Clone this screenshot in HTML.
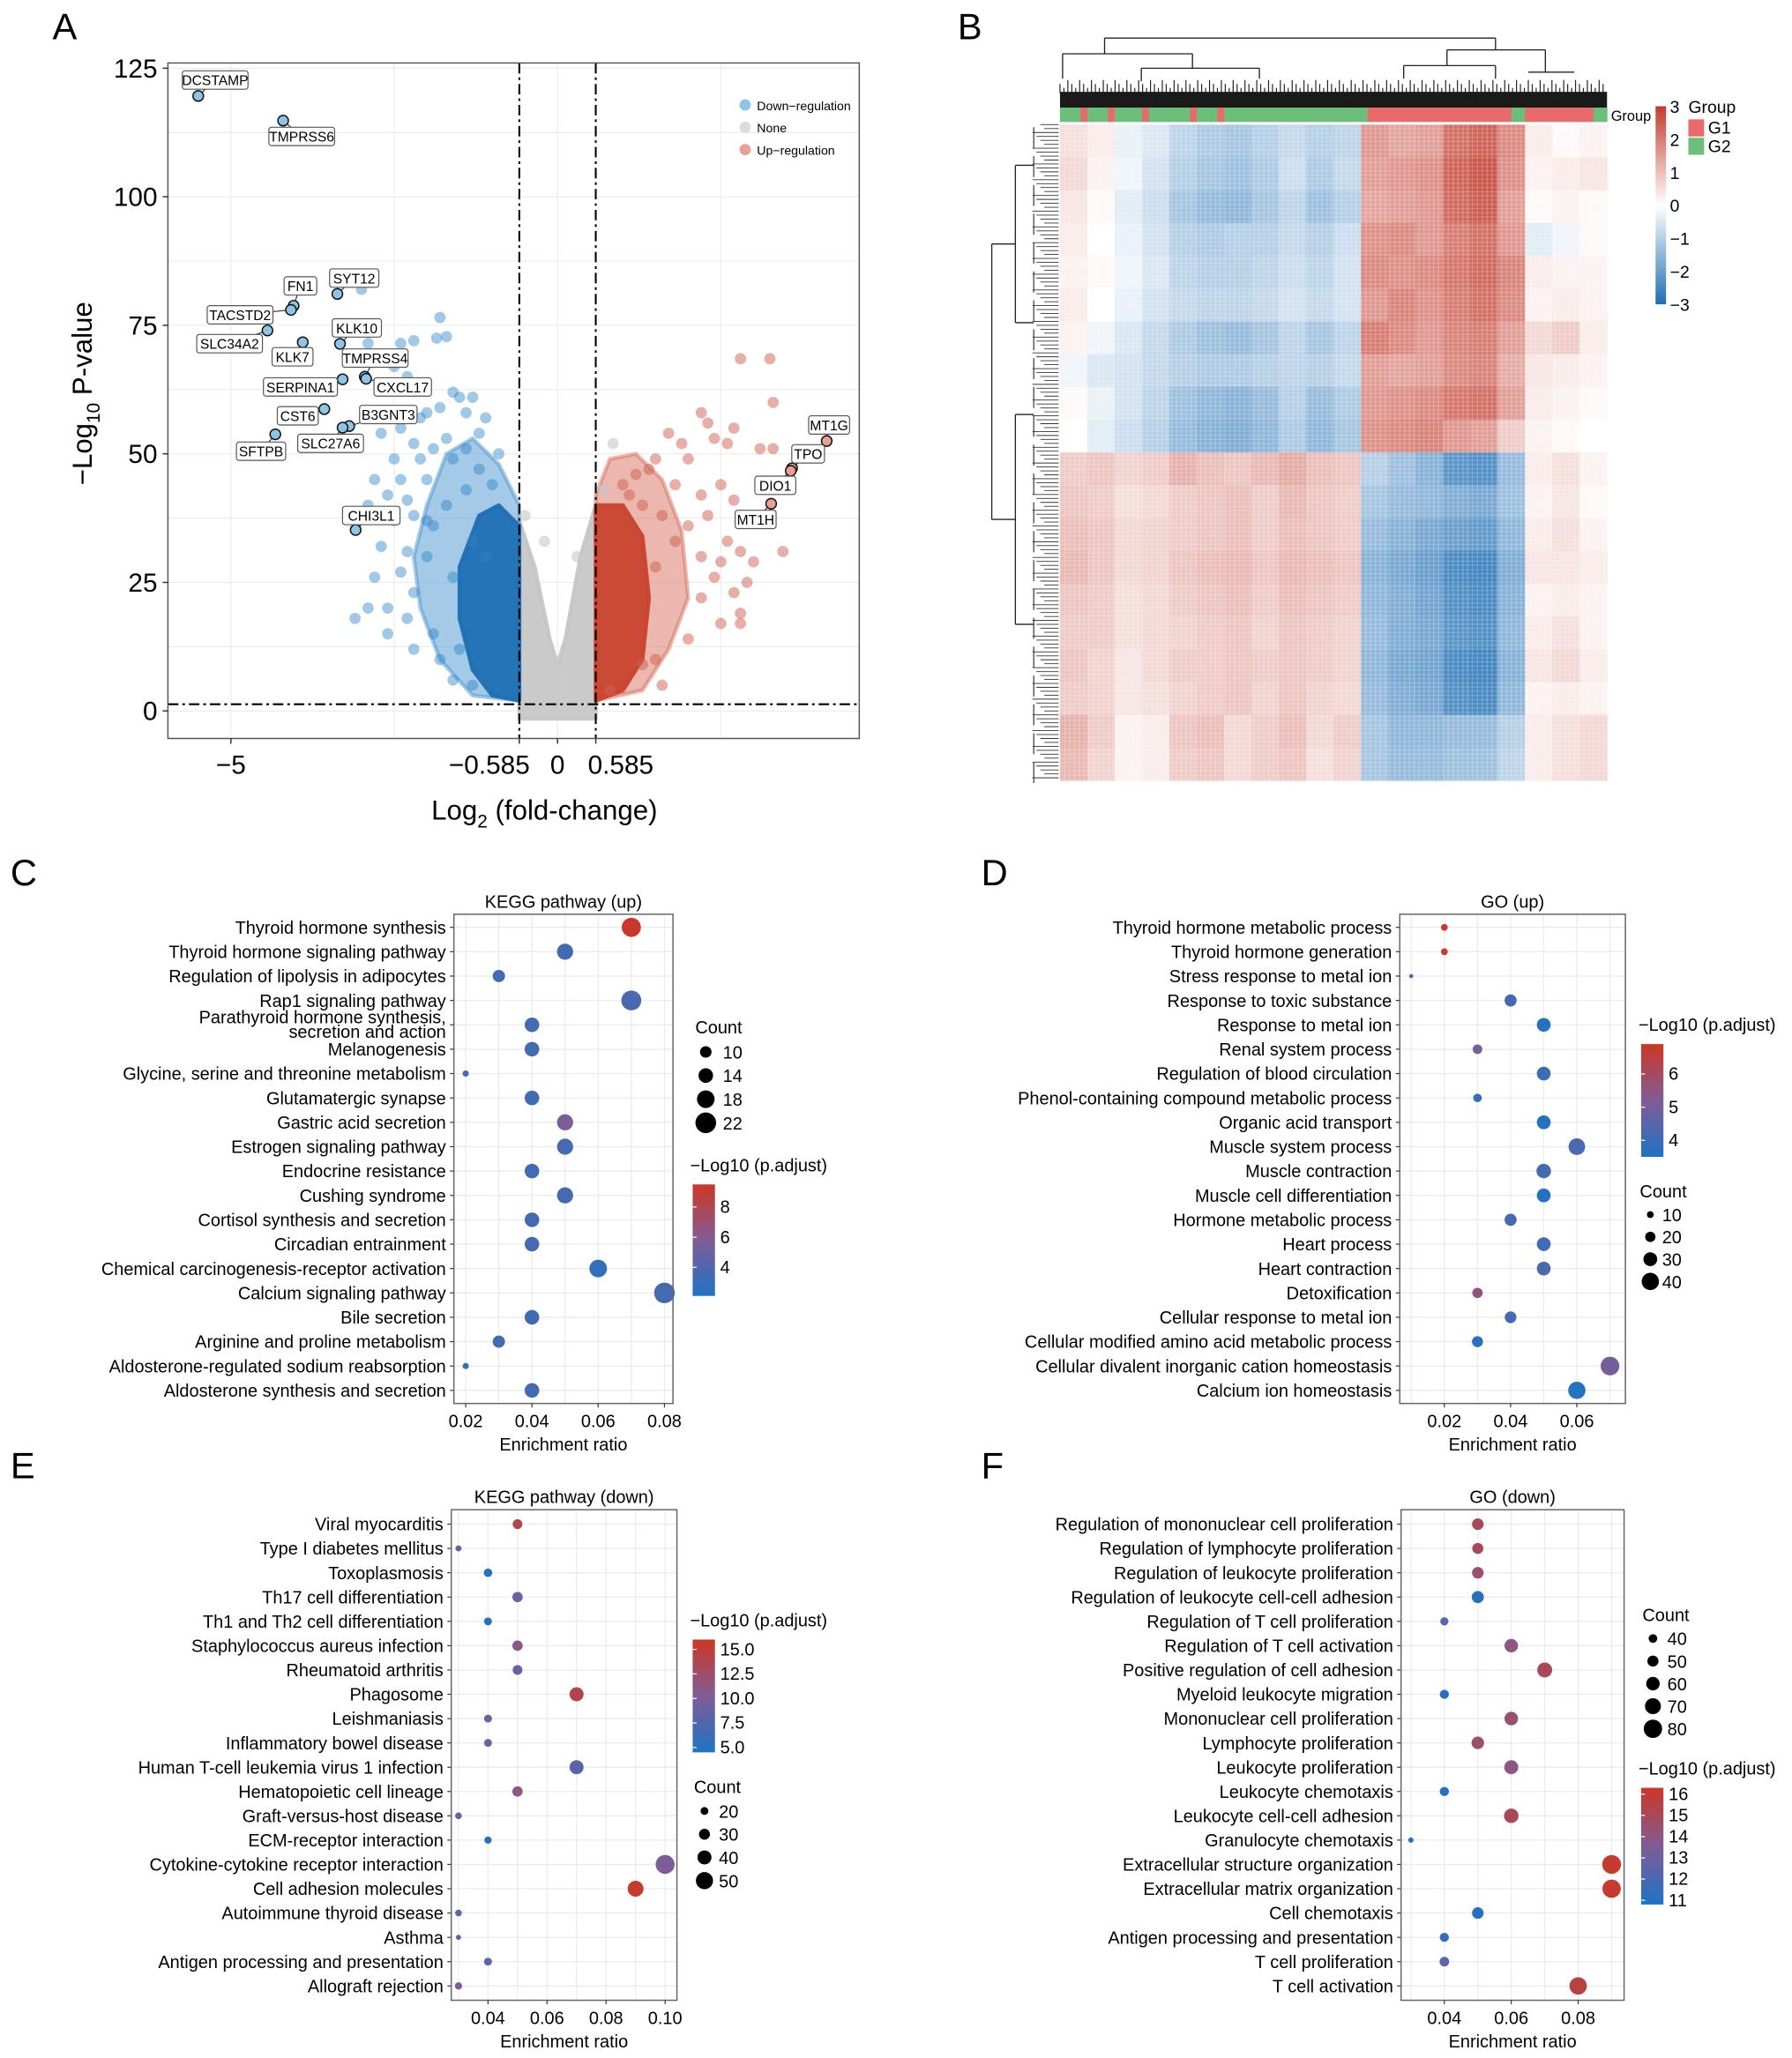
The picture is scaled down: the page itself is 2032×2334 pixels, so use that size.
<!DOCTYPE html>
<html><head><meta charset="utf-8">
<style>
html,body{margin:0;padding:0;background:#fff;}
svg{display:block;font-family:"Liberation Sans",Arial,sans-serif;}
</style></head>
<body>
<svg id="fig" xmlns="http://www.w3.org/2000/svg" width="2032" height="2334" viewBox="0 0 1366 1569">
<defs>
<linearGradient id="hmGrad" x1="0" y1="1" x2="0" y2="0">
<stop offset="0" stop-color="rgb(30,110,180)"/><stop offset="0.5" stop-color="#ffffff"/><stop offset="1" stop-color="rgb(195,60,45)"/>
</linearGradient>
<linearGradient id="dotGrad" x1="0" y1="1" x2="0" y2="0">
<stop offset="0" stop-color="rgb(30,115,195)"/><stop offset="0.5" stop-color="rgb(128,92,150)"/><stop offset="1" stop-color="rgb(205,55,35)"/>
</linearGradient>
</defs>
<text x="40" y="30" font-size="28">A</text>
<text x="730" y="30" font-size="28">B</text>
<text x="8" y="675" font-size="28">C</text>
<text x="748" y="675" font-size="28">D</text>
<text x="8" y="1127" font-size="28">E</text>
<text x="748" y="1127" font-size="28">F</text>
<g id="gA"></g>
<g id="gB"></g>
<g id="gC"></g>
<g id="gD"></g>
<g id="gE"></g>
<g id="gF"></g>
</svg>
<script>
// ---------- Volcano data ----------
const volDownX=[-3.0,-1.8,-1.85,-1.7,-2.2,-2.4,-2.9,-2.6,-2.5,-2.3,-1.6,-1.5,-1.3,-1.4,-1.8,-2.0,-2.1,-2.4,-2.7,-1.2,-1.7,-2.2,-1.9,-1.4,-2.5,-2.1,-1.6,-2.8,-2.4,-2.0,-2.6,-2.3,-2.9,-2.2,-2.5,-2.0,-2.7,-2.3,-2.0,-2.8,-2.4,-2.2,-2.9,-2.6,-2.3,-3.1,-1.9,-2.6,-1.5,-1.8,-2.2,-1.3,-1.6,-1.1,-0.9,-1.2,-1.0,-1.4,-1.7,-1.9,-1.3,-1.1,-1.6];
const volDownY=[82,76.5,72.5,72.8,72,71.5,71.5,69,67,65,62,61,61,58,59,58,57,55,54,54,53,52,51,51,49,49,49,45,45,45,42,41,40,38,37,37,32,31,30,26,27,23,20,20,18,18,15,15,12,10,12,5,6,57,50,47,44,43,40,36,33,30,26];
const volUpX=[2.8,3.25,3.3,2.2,2.3,2.4,2.7,2.6,3.1,3.3,1.7,1.9,2.0,1.5,1.4,1.2,1.8,2.2,2.5,2.7,2.3,2.9,2.0,2.6,2.8,3.45,2.2,2.5,3.0,2.4,2.9,2.7,2.2,2.8,2.5,2.8,2.0,1.5,1.6,1.3,0.8,1.1,1.3,1.6,1.8,1.0,1.5];
const volUpY=[68.5,68.5,60,58,56,53,55,52,51,51,54,52,49,49,47,46,44,42,44,41,38,38,36,33,31,31,30,29,29,26,25,23,22,19,17,17,14,10,5,9,4,42,40,38,33,44,28];
const volNoneX=[-0.2,0.85,0.7,-0.5,0.3];
const volNoneY=[33,52,43,38,30];
const labGenes=["DCSTAMP","TMPRSS6","SYT12","FN1","TACSTD2","SLC34A2","KLK10","KLK7","TMPRSS4","SERPINA1","CXCL17","CST6","B3GNT3","SLC27A6","SFTPB","CHI3L1","MT1G","TPO","DIO1","MT1H"];
const labX=[-5.50,-4.20,-3.37,-4.04,-4.08,-4.44,-3.33,-3.90,-2.95,-3.29,-2.93,-3.57,-3.19,-3.29,-4.32,-3.09,4.12,3.59,3.57,3.27];
const labY=[119.6,114.8,81.1,78.8,78.0,74.0,71.4,71.7,65.0,64.5,64.6,58.7,55.4,55.1,53.8,35.2,52.5,47.2,46.7,40.3];
const labBoxX=[164,230,270,229,183,175,272,223,286,229,307,227,296,252,199,283,632,616,591,576];
const labBoxY=[61,104,212,218,240,262,250,272,273,295,295,317,316,338,344,393,324,346,370,396];
const volXTicks=[-5,-0.585,0,0.585];
const volXTickLabels=["\u22125","\u22120.585","0","0.585"];
const volYTicks=[0,25,50,75,100,125];
// ---------- Heatmap data ----------
const hmMatrix=[
[0.5,0.3,-0.3,-0.5,-0.9,-1.1,-1.2,-1.0,-0.8,-1.0,-0.9,1.6,1.4,1.5,2.2,2.4,1.8,0.3,0.1,0.2],
[0.6,0.2,-0.2,-0.6,-1.0,-1.2,-1.3,-1.1,-0.7,-1.1,-0.8,1.5,1.6,1.7,2.4,2.6,1.7,0.2,0.3,0.4],
[0.4,0.1,-0.4,-0.7,-1.2,-1.4,-1.5,-1.2,-0.9,-1.3,-1.0,1.4,1.5,1.6,2.3,2.5,1.5,0.1,0.2,0.1],
[0.3,0.0,-0.3,-0.6,-1.0,-1.1,-1.0,-1.0,-0.8,-1.0,-0.7,1.7,1.8,1.6,2.0,2.2,1.6,-0.4,-0.2,0.1],
[0.2,0.1,-0.2,-0.5,-0.9,-1.0,-1.0,-0.9,-0.7,-0.9,-0.6,1.8,1.7,1.8,2.1,2.3,1.9,0.3,0.2,0.2],
[0.3,0.0,-0.3,-0.6,-0.8,-0.9,-0.9,-0.8,-0.6,-0.8,-0.6,1.6,1.9,1.7,2.0,2.2,1.8,0.2,0.3,0.2],
[0.2,-0.2,-0.5,-0.8,-1.1,-1.3,-1.4,-1.2,-0.9,-1.2,-0.9,2.0,1.8,1.6,1.9,2.0,1.5,0.6,0.8,0.3],
[-0.2,-0.5,-0.6,-0.8,-1.0,-1.1,-1.1,-1.0,-0.9,-1.0,-0.8,1.5,1.4,1.5,1.8,1.9,1.3,0.4,0.3,0.2],
[0.1,-0.3,-0.6,-0.9,-1.3,-1.5,-1.6,-1.4,-1.0,-1.4,-1.1,1.6,1.7,1.8,2.1,2.2,1.5,0.3,0.2,0.1],
[0.0,-0.4,-0.7,-1.0,-1.4,-1.6,-1.7,-1.5,-1.1,-1.5,-1.2,1.7,1.8,1.9,1.6,1.5,0.8,0.2,0.1,0.0],
[0.8,0.9,0.7,0.8,1.2,1.0,0.9,1.1,1.3,1.0,0.9,-1.0,-1.3,-1.6,-2.2,-2.3,-1.4,0.3,0.5,0.2],
[0.9,0.8,0.5,0.6,0.8,0.9,1.0,0.8,1.1,0.9,0.8,-1.2,-1.4,-1.5,-1.7,-1.8,-1.3,0.2,0.4,0.1],
[1.0,0.9,0.6,0.7,0.8,0.9,1.0,0.8,1.0,0.9,0.8,-1.4,-1.6,-1.8,-2.0,-2.1,-1.5,0.3,0.5,0.2],
[1.1,0.9,0.6,0.7,0.9,1.0,1.1,0.9,1.1,1.0,0.9,-1.6,-1.8,-2.0,-2.4,-2.5,-1.7,0.4,0.4,0.3],
[0.9,0.8,0.5,0.6,0.8,0.9,1.0,0.8,1.0,0.9,0.8,-1.5,-1.7,-1.9,-2.3,-2.4,-1.6,0.2,0.3,0.2],
[0.8,0.8,0.5,0.6,0.7,0.8,0.9,0.7,0.9,0.8,0.7,-1.4,-1.7,-1.8,-2.2,-2.3,-1.5,0.3,0.5,0.2],
[0.9,0.7,0.4,0.6,0.8,0.8,0.9,0.8,0.9,0.8,0.7,-1.5,-1.8,-1.9,-2.4,-2.5,-1.6,0.4,0.6,0.3],
[0.8,0.7,0.4,0.5,0.7,0.8,0.9,0.7,0.9,0.7,0.6,-1.4,-1.7,-1.8,-2.3,-2.4,-1.5,0.2,0.3,0.2],
[1.2,0.8,0.2,0.3,0.9,1.0,0.6,0.8,1.0,0.6,0.8,-1.2,-1.5,-1.5,-1.4,-1.4,-1.0,0.3,0.5,0.6],
[1.1,0.7,0.2,0.3,0.8,0.9,0.6,0.8,0.9,0.5,0.7,-1.2,-1.4,-1.4,-1.3,-1.3,-0.9,0.3,0.5,0.6]];
const hmGroups=[];
for(let i=0;i<80;i++){hmGroups.push((i>=45&&i<=65)||(i>=68&&i<=77)||i==3||i==7||i==12||i==19||i==23?"G1":"G2");}
const hmLegendTicks=[3,2,1,0,-1,-2,-3];
// ---------- Panel C ----------
const cTerms=["Thyroid hormone synthesis","Thyroid hormone signaling pathway","Regulation of lipolysis in adipocytes","Rap1 signaling pathway","Parathyroid hormone synthesis,|secretion and action","Melanogenesis","Glycine, serine and threonine metabolism","Glutamatergic synapse","Gastric acid secretion","Estrogen signaling pathway","Endocrine resistance","Cushing syndrome","Cortisol synthesis and secretion","Circadian entrainment","Chemical carcinogenesis-receptor activation","Calcium signaling pathway","Bile secretion","Arginine and proline metabolism","Aldosterone-regulated sodium reabsorption","Aldosterone synthesis and secretion"];
const cRatio=[0.07,0.05,0.03,0.07,0.04,0.04,0.02,0.04,0.05,0.05,0.04,0.05,0.04,0.04,0.06,0.08,0.04,0.03,0.02,0.04];
const cCount=[20,16,11,21,14,14,3,14,16,16,14,16,14,14,18,22,14,11,3,14];
const cLogp=[9.3,3.4,3.5,3.7,3.5,3.5,3.2,3.4,5.6,3.6,3.5,3.6,3.6,3.6,2.8,3.6,3.4,3.5,3.2,3.5];
const cXTicks=[0.02,0.04,0.06,0.08];
const cSizeBreaks=[10,14,18,22];
const cColorTicks=[8,6,4];
// ---------- Panel D ----------
const dTerms=["Thyroid hormone metabolic process","Thyroid hormone generation","Stress response to metal ion","Response to toxic substance","Response to metal ion","Renal system process","Regulation of blood circulation","Phenol-containing compound metabolic process","Organic acid transport","Muscle system process","Muscle contraction","Muscle cell differentiation","Hormone metabolic process","Heart process","Heart contraction","Detoxification","Cellular response to metal ion","Cellular modified amino acid metabolic process","Cellular divalent inorganic cation homeostasis","Calcium ion homeostasis"];
const dRatio=[0.02,0.02,0.01,0.04,0.05,0.03,0.05,0.03,0.05,0.06,0.05,0.05,0.04,0.05,0.05,0.03,0.04,0.03,0.07,0.06];
const dCount=[10,10,2,25,30,18,30,15,30,38,32,30,25,30,30,20,24,22,44,40];
const dLogp=[6.7,6.7,3.8,4.2,3.6,5.0,4.0,3.9,3.6,4.3,4.2,3.6,4.2,4.1,4.3,5.6,4.2,3.7,5.0,3.6];
const dXTicks=[0.02,0.04,0.06];
const dSizeBreaks=[10,20,30,40];
const dColorTicks=[6,5,4];
// ---------- Panel E ----------
const eTerms=["Viral myocarditis","Type I diabetes mellitus","Toxoplasmosis","Th17 cell differentiation","Th1 and Th2 cell differentiation","Staphylococcus aureus infection","Rheumatoid arthritis","Phagosome","Leishmaniasis","Inflammatory bowel disease","Human T-cell leukemia virus 1 infection","Hematopoietic cell lineage","Graft-versus-host disease","ECM-receptor interaction","Cytokine-cytokine receptor interaction","Cell adhesion molecules","Autoimmune thyroid disease","Asthma","Antigen processing and presentation","Allograft rejection"];
const eRatio=[0.05,0.03,0.04,0.05,0.04,0.05,0.05,0.07,0.04,0.04,0.07,0.05,0.03,0.04,0.10,0.09,0.03,0.03,0.04,0.03];
const eCount=[26,14,22,28,20,28,26,40,20,20,40,28,16,18,56,46,16,11,20,18];
const eLogp=[14,9,5,9,5,11,9,14,9,9,8,11,9,5,10,15.5,8,8,8,10];
const eXTicks=[0.04,0.06,0.08,0.10];
const eSizeBreaks=[20,30,40,50];
const eColorTicks=[15.0,12.5,10.0,7.5,5.0];
// ---------- Panel F ----------
const fTerms=["Regulation of mononuclear cell proliferation","Regulation of lymphocyte proliferation","Regulation of leukocyte proliferation","Regulation of leukocyte cell-cell adhesion","Regulation of T cell proliferation","Regulation of T cell activation","Positive regulation of cell adhesion","Myeloid leukocyte migration","Mononuclear cell proliferation","Lymphocyte proliferation","Leukocyte proliferation","Leukocyte chemotaxis","Leukocyte cell-cell adhesion","Granulocyte chemotaxis","Extracellular structure organization","Extracellular matrix organization","Cell chemotaxis","Antigen processing and presentation","T cell proliferation","T cell activation"];
const fRatio=[0.05,0.05,0.05,0.05,0.04,0.06,0.07,0.04,0.06,0.05,0.06,0.04,0.06,0.03,0.09,0.09,0.05,0.04,0.04,0.08];
const fCount=[52,50,52,54,38,60,66,42,60,56,62,42,64,26,82,80,52,42,44,76];
const fLogp=[15,15,14.5,11,12.5,14,15,11,14.5,14.5,14,11,15,11,16,16,11,11.5,12.5,15.5];
const fXTicks=[0.04,0.06,0.08];
const fSizeBreaks=[40,50,60,70,80];
const fColorTicks=[16,15,14,13,12,11];

const NS="http://www.w3.org/2000/svg";
function mk(parent,tag,attrs,txt){const e=document.createElementNS(NS,tag);for(const k in attrs)e.setAttribute(k,attrs[k]);if(txt!==undefined)e.textContent=txt;parent.appendChild(e);return e;}
function lerp(a,b,t){return a+(b-a)*t;}
function dotColor(v,lo,hi){let t=Math.max(0,Math.min(1,(v-lo)/(hi-lo)));const A=[30,115,195],M=[128,92,150],B=[205,55,35];let c;
 if(t<0.5){const s=t*2;c=A.map((a,i)=>Math.round(lerp(a,M[i],s)));}else{const s=(t-0.5)*2;c=M.map((m,i)=>Math.round(lerp(m,B[i],s)));}
 return "rgb("+c.join(",")+")";}
function hmColor(v){const t=Math.max(-3,Math.min(3,v))/3;const W=[255,255,255];let C=t<0?[30,110,180]:[195,60,45];const s=Math.abs(t);return "rgb("+W.map((w,i)=>Math.round(lerp(w,C[i],s))).join(",")+")";}

// ================= Panel A: volcano =================
(function(){
 const g=document.getElementById("gA");
 const L=128,R=655,T=48,B=563;
 const sx=v=>425+v*49.8, sy=v=>542-v*3.92;
 let e=mk(g,"rect",{x:L,y:T,width:R-L,height:B-T,fill:"#fff",stroke:"none"});
 
 
 const grid=[-5,-2.5,0,2.5];
 grid.forEach(v=>{const l=mk(g,"line",{x1:sx(v),x2:sx(v),y1:T,y2:B,stroke:"#ececec","stroke-width":0.8});
  
  });
 [0,12.5,25,37.5,50,62.5,75,87.5,100,112.5,125].forEach(v=>{const l=mk(g,"line",{x1:L,x2:R,y1:sy(v),y2:sy(v),stroke:"#ececec","stroke-width":0.8});
  
  });
 const grayPoly=[[-0.585,-1.5],[0.585,-1.5],[0.585,40],[0.35,30],[0.12,14],[0,9],[-0.12,14],[-0.35,28],[-0.585,37]];
 const blueOuter=[[-0.585,2],[-1.3,3],[-1.8,10],[-2.1,20],[-2.2,30],[-2.0,40],[-1.7,50],[-1.3,53],[-0.9,48],[-0.585,40]];
 const blueInner=[[-0.585,2],[-1.0,3],[-1.3,8],[-1.5,18],[-1.5,28],[-1.2,38],[-0.9,40],[-0.585,36]];
 const redOuter=[[0.585,2],[1.3,4],[1.7,12],[2.0,22],[1.9,35],[1.6,45],[1.2,50],[0.8,49],[0.585,42]];
 const redInner=[[0.585,2],[1.0,4],[1.3,10],[1.4,22],[1.3,34],[1.0,40],[0.585,40]];
 [[grayPoly,"#c4c4c4","none-core",0.9],[blueOuter,"#4a95cf","down-spread",0.5],[blueInner,"#1f6fb4","down-core",0.95],[redOuter,"#d8705e","up-spread",0.5],[redInner,"#c9432f","up-core",0.95]].forEach(p=>{
  const poly=mk(g,"polygon",{points:p[0].map(q=>sx(q[0])+","+sy(q[1])).join(" "),fill:p[1],"fill-opacity":p[3],stroke:p[1],"stroke-opacity":p[3],"stroke-width":3,"stroke-linejoin":"round"});
  
  });
 volNoneX.forEach((x,i)=>{const c=mk(g,"circle",{cx:sx(x),cy:sy(volNoneY[i]),r:4.3,fill:"#c8c8c8","fill-opacity":0.6});
  
  });
 volDownX.forEach((x,i)=>{const c=mk(g,"circle",{cx:sx(x),cy:sy(volDownY[i]),r:4.3,fill:"#2f86c8","fill-opacity":0.45});
  
  });
 volUpX.forEach((x,i)=>{const c=mk(g,"circle",{cx:sx(x),cy:sy(volUpY[i]),r:4.3,fill:"#d0604f","fill-opacity":0.5});
  
  });
 [-0.585,0.585].forEach(v=>{const l=mk(g,"line",{x1:sx(v),x2:sx(v),y1:T,y2:B,stroke:"#000","stroke-width":1.4,"stroke-dasharray":"8,3,2,3"});
  
  });
 let h=mk(g,"line",{x1:L,x2:R,y1:sy(1.3),y2:sy(1.3),stroke:"#000","stroke-width":1.4,"stroke-dasharray":"8,3,2,3"});
 
 
 labGenes.forEach((n,i)=>{
  const px=sx(labX[i]),py=sy(labY[i]);const up=labX[i]>0;
  const w=n.length*6.3+6;
  const ln=mk(g,"line",{x1:px,y1:py,x2:labBoxX[i],y2:labBoxY[i],stroke:"#333","stroke-width":0.8});
  
  
  const c=mk(g,"circle",{cx:px,cy:py,r:4,fill:up?"#e8a090":"#8ec5e6",stroke:"#111","stroke-width":1});
  
  
  const bx=mk(g,"rect",{x:labBoxX[i]-w/2,y:labBoxY[i]-7,width:w,height:14,rx:2,fill:"#fff",stroke:"#555","stroke-width":0.8});
  
  
  const t=mk(g,"text",{x:labBoxX[i],y:labBoxY[i]+4,"font-size":10.5,"text-anchor":"middle"},n);
  
  });
 e=mk(g,"rect",{x:L,y:T,width:R-L,height:B-T,fill:"none",stroke:"#555","stroke-width":1});
 
 
 volYTicks.forEach(v=>{const t=mk(g,"text",{x:L-8,y:sy(v)+7,"font-size":20,"text-anchor":"end"},String(v));
  
  
  const k=mk(g,"line",{x1:L-4,x2:L,y1:sy(v),y2:sy(v),stroke:"#333"});
  
  });
 volXTicks.forEach((v,i)=>{const anc=i==1?"end":(i==3?"start":"middle");const off=i==1?8:(i==3?-6:0);
  const t=mk(g,"text",{x:sx(v)+off,y:B+27,"font-size":20,"text-anchor":anc},volXTickLabels[i]);
  
  
  const k=mk(g,"line",{x1:sx(v),x2:sx(v),y1:B,y2:B+4,stroke:"#333"});
  
  });
 let xt=mk(g,"text",{x:415,y:625,"font-size":21,"text-anchor":"middle"});
 xt.innerHTML='Log<tspan font-size="14" dy="6">2</tspan><tspan dy="-6"> (fold-change)</tspan>';
 
 
 let yt=mk(g,"text",{x:0,y:0,"font-size":21,"text-anchor":"middle",transform:"translate(70,300) rotate(-90)"});
 yt.innerHTML='\u2212Log<tspan font-size="14" dy="6">10</tspan><tspan dy="-6"> P-value</tspan>';
 
 
 const legN=["Down\u2212regulation","None","Up\u2212regulation"],legC=["#8ec5e6","#dcdcdc","#e8a090"];
 legN.forEach((n,i)=>{const c=mk(g,"circle",{cx:568,cy:80+i*17,r:4.3,fill:legC[i]});
  
  
  const t=mk(g,"text",{x:577,y:84+i*17,"font-size":9.5},n);
  
  });
})();

// ================= Panel B: heatmap =================
(function(){
 const g=document.getElementById("gB");
 const L=808,R=1225,T=95,B=595;
 const nr=hmMatrix.length,nc=hmMatrix[0].length,cw=(R-L)/nc,rh=(B-T)/nr;
 hmMatrix.forEach((row,r)=>row.forEach((v,c)=>{
  const cell=mk(g,"rect",{x:L+c*cw,y:T+r*rh,width:cw+0.3,height:rh+0.3,fill:hmColor(v)});
  
  }));
 for(let y=T;y<B;y+=3.2){const l=mk(g,"line",{x1:L,x2:R,y1:y,y2:y,stroke:"#fff","stroke-opacity":0.2,"stroke-width":0.8});
  
  }
 for(let x=L;x<R;x+=3.7){const l=mk(g,"line",{x1:x,x2:x,y1:T,y2:B,stroke:"#fff","stroke-opacity":0.22,"stroke-width":0.9});
  
  }
 const gw=(R-L)/hmGroups.length;
 hmGroups.forEach((gr,i)=>{const s=mk(g,"rect",{x:L+i*gw,y:82,width:gw+0.3,height:11,fill:gr=="G1"?"#e86b6b":"#6cbf78"});
  
  });
 let t=mk(g,"text",{x:1228,y:92,"font-size":11},"Group");
 
 
 const colD=[[842,1140,29],[810,909,41],[1103,1178,38],[842,842,29,41],[1140,1140,29,38],[810,810,41,60],[909,909,41,52],[870,960,52],[1103,1103,38,50],[1178,1178,38,55],[1070,1140,50],[1165,1200,55],[870,870,52,62],[960,960,52,60],[1070,1070,50,60],[1140,1140,50,60]];
 colD.forEach(d=>{const l=d.length==3?mk(g,"line",{x1:d[0],x2:d[1],y1:d[2],y2:d[2],stroke:"#222","stroke-width":0.9}):mk(g,"line",{x1:d[0],x2:d[1],y1:d[2],y2:d[3],stroke:"#222","stroke-width":0.9});
  
  });
 let band=mk(g,"rect",{x:L,y:70,width:R-L,height:12,fill:"#1a1a1a"});
 
 
 for(let x=L;x<R;x+=3){const l=mk(g,"line",{x1:x,x2:x,y1:60+((x*7)%9),y2:71,stroke:"#222","stroke-width":0.8});
  
  }
 const rowV=[[756,186,396],[774,126,246],[774,316,476]];
 rowV.forEach(d=>{const l=mk(g,"line",{x1:d[0],x2:d[0],y1:d[1],y2:d[2],stroke:"#222","stroke-width":0.9});
  
  });
 const rowH=[[756,774,186],[756,774,396],[774,788,126],[774,788,246],[774,788,316],[774,788,476]];
 rowH.forEach(d=>{const l=mk(g,"line",{x1:d[0],x2:d[1],y1:d[2],y2:d[2],stroke:"#222","stroke-width":0.9});
  
  });
 for(let y=T;y<B;y+=3){const l=mk(g,"line",{x1:786+((y*5)%12),x2:807,y1:y,y2:y,stroke:"#333","stroke-width":0.6});
  
  }
 for(let y=T+10;y<B;y+=22){const l=mk(g,"line",{x1:788,x2:788,y1:y-8,y2:y+8,stroke:"#333","stroke-width":0.8});
  
  }
 let cb=mk(g,"rect",{x:1262,y:81,width:8,height:151,fill:"url(#hmGrad)"});
 
 
 hmLegendTicks.forEach(v=>{const y=81+(3-v)/6*151;const tx=mk(g,"text",{x:1273,y:y+5,"font-size":13},v<0?"\u2212"+(-v):String(v));
  
  });
 t=mk(g,"text",{x:1287,y:86,"font-size":13},"Group");
 
 
 [["G1","#e86b6b"],["G2","#6cbf78"]].forEach((q,i)=>{const r=mk(g,"rect",{x:1287,y:91+i*14,width:12,height:13,fill:q[1]});
  
  
  const tt=mk(g,"text",{x:1302,y:102+i*14,"font-size":13},q[0]);
  
  });
})();

// ================= Dot plots =================
const FS=13.4;
function dotPlot(cfg){
 const g=document.getElementById(cfg.id);
 const {L,R,T,B,x0,px0,pxPer,y0,ystep}=cfg;
 const sx=v=>px0+(v-x0)*pxPer, sy=i=>y0+i*ystep;
 let bg=mk(g,"rect",{x:L,y:T,width:R-L,height:B-T,fill:"#fff"});
 
 
 const step=cfg.ticks[1]-cfg.ticks[0];
 for(let v=cfg.ticks[0]-step*2;v<=cfg.ticks[cfg.ticks.length-1]+step*2;v+=step/2){const x=sx(v);if(x<L||x>R)continue;
  const l=mk(g,"line",{x1:x,x2:x,y1:T,y2:B,stroke:"#ebebeb","stroke-width":0.8});
  
  }
 cfg.terms.forEach((term,i)=>{const l=mk(g,"line",{x1:L,x2:R,y1:sy(i),y2:sy(i),stroke:"#ebebeb","stroke-width":0.9});
  
  
  const tk=mk(g,"line",{x1:L-3,x2:L,y1:sy(i),y2:sy(i),stroke:"#333","stroke-width":0.8});
  
  
  const parts=term.split("|");
  const t=mk(g,"text",{x:L-6,y:sy(i)+4.8-(parts.length-1)*6,"font-size":FS,"text-anchor":"end"});
  parts.forEach((p,k)=>{mk(t,"tspan",{x:L-6,dy:k?11:0},p);});
  
  });
 cfg.terms.forEach((term,i)=>{const c=mk(g,"circle",{cx:sx(cfg.ratio[i]),cy:sy(i),r:Math.max(1.5,cfg.rA+cfg.rB*cfg.count[i]),fill:dotColor(cfg.logp[i],cfg.cLo,cfg.cHi)});
  
  });
 let br=mk(g,"rect",{x:L,y:T,width:R-L,height:B-T,fill:"none",stroke:"#666","stroke-width":1});
 
 
 cfg.ticks.forEach(v=>{const tk=mk(g,"line",{x1:sx(v),x2:sx(v),y1:B,y2:B+3,stroke:"#333","stroke-width":0.8});
  
  
  const t=mk(g,"text",{x:sx(v),y:B+18,"font-size":FS,"text-anchor":"middle"},v.toFixed(2));
  
  });
 let tt=mk(g,"text",{x:(L+R)/2,y:T-5,"font-size":FS,"text-anchor":"middle"},cfg.title);
 
 
 let xt=mk(g,"text",{x:(L+R)/2,y:B+36,"font-size":FS,"text-anchor":"middle"},"Enrichment ratio");
 
 
 let st=mk(g,"text",{x:cfg.sLegX-8,y:cfg.sLegY,"font-size":FS},"Count");
 
 
 cfg.sizes.forEach((s,k)=>{const y=cfg.sLegY+cfg.sLegStep*(k+1);
  const c=mk(g,"circle",{cx:cfg.sLegX,cy:y-4,r:cfg.rA+cfg.rB*s,fill:"#000"});
  
  
  const t=mk(g,"text",{x:cfg.sLegX+cfg.sLegTx,y:y+1,"font-size":FS},String(s));
  
  });
 let ct=mk(g,"text",{x:cfg.cbX-2,y:cfg.cbT-10,"font-size":FS},"\u2212Log10 (p.adjust)");
 
 
 let cb=mk(g,"rect",{x:cfg.cbX,y:cfg.cbT,width:17,height:cfg.cbB-cfg.cbT,fill:"url(#dotGrad)"});
 
 
 cfg.cticks.forEach(v=>{const y=cfg.cbB-(v-cfg.cLo)/(cfg.cHi-cfg.cLo)*(cfg.cbB-cfg.cbT);
  const l=mk(g,"line",{x1:cfg.cbX,x2:cfg.cbX+3,y1:y,y2:y,stroke:"#fff","stroke-width":0.8});
  
  
  const t=mk(g,"text",{x:cfg.cbX+21,y:y+4.5,"font-size":FS},cfg.cfmt(v));
  
  });
}
dotPlot({id:"gC",title:"KEGG pathway (up)",terms:cTerms,ratio:cRatio,count:cCount,logp:cLogp,ticks:cXTicks,sizes:cSizeBreaks,cticks:cColorTicks,
 L:346,R:513,T:697,B:1070,x0:0.02,px0:355,pxPer:2525,y0:707,ystep:18.58,rA:1.5,rB:0.29,cLo:2.1,cHi:9.5,
 sLegX:538,sLegY:788,sLegStep:18,sLegTx:13,cbX:528,cbT:903,cbB:988,cfmt:v=>String(v)});
dotPlot({id:"gD",title:"GO (up)",terms:dTerms,ratio:dRatio,count:dCount,logp:dLogp,ticks:dXTicks,sizes:dSizeBreaks,cticks:dColorTicks,
 L:1067,R:1239,T:697,B:1070,x0:0.02,px0:1101,pxPer:2525,y0:707,ystep:18.58,rA:1.27,rB:0.133,cLo:3.5,cHi:6.9,
 sLegX:1258,sLegY:913,sLegStep:17,sLegTx:9,cbX:1251,cbT:796,cbB:882,cfmt:v=>String(v)});
dotPlot({id:"gE",title:"KEGG pathway (down)",terms:eTerms,ratio:eRatio,count:eCount,logp:eLogp,ticks:eXTicks,sizes:eSizeBreaks,cticks:eColorTicks,
 L:344,R:516,T:1151,B:1525,x0:0.04,px0:372,pxPer:2250,y0:1162,ystep:18.53,rA:0.67,rB:0.117,cLo:4.5,cHi:16,
 sLegX:537,sLegY:1367,sLegStep:17.7,sLegTx:11,cbX:528,cbT:1250,cbB:1336,cfmt:v=>v.toFixed(1)});
dotPlot({id:"gF",title:"GO (down)",terms:fTerms,ratio:fRatio,count:fCount,logp:fLogp,ticks:fXTicks,sizes:fSizeBreaks,cticks:fColorTicks,
 L:1068,R:1238,T:1151,B:1525,x0:0.04,px0:1101,pxPer:2550,y0:1162,ystep:18.53,rA:-0.4,rB:0.0925,cLo:10.8,cHi:16.3,
 sLegX:1260,sLegY:1236,sLegStep:17.2,sLegTx:11,cbX:1251,cbT:1363,cbB:1452,cfmt:v=>String(v)});
</script>
</body></html>
